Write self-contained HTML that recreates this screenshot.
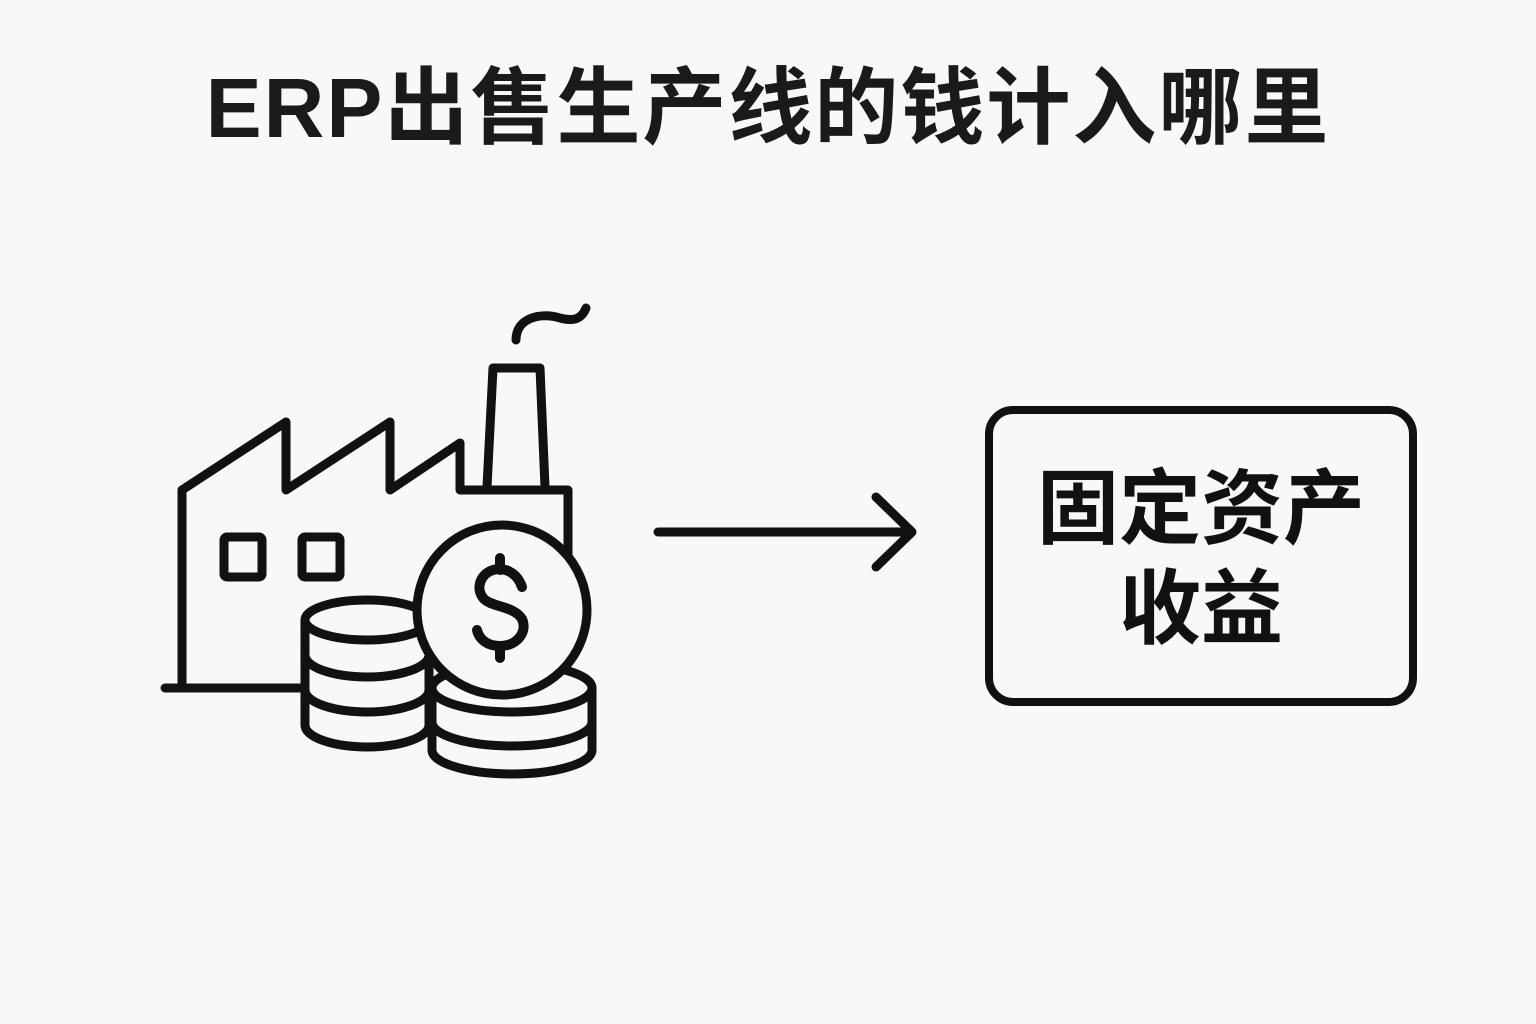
<!DOCTYPE html>
<html><head><meta charset="utf-8"><style>
body{margin:0;width:1536px;height:1024px;background:#f8f8f6;overflow:hidden;position:relative;font-family:"Liberation Sans","Noto Sans CJK SC",sans-serif;}
.t{position:absolute;left:0;width:1536px;top:58px;text-align:center;font-size:84px;font-weight:bold;color:#1a1a1a;line-height:100px;letter-spacing:2px}
.b{position:absolute;left:985px;top:406px;width:416px;height:284px;border:8px solid #111;border-radius:28px;box-sizing:content-box}
.bt{position:absolute;left:985px;width:432px;text-align:center;font-size:82px;font-weight:bold;color:#111;line-height:100px}
</style></head><body>
<div class="t">ERP出售生产线的钱计入哪里</div>
<svg width="1536" height="1024" style="position:absolute;left:0;top:0" fill="none" stroke="#111" stroke-width="9" stroke-linejoin="round" stroke-linecap="round">
<path d="M165 688 H310 M182 688 V490 L286 422 V490 L390 422 V490 L460 443 V490 H568 V560"/>
<path d="M487 487 L493 368 H540 L545 487"/>
<path d="M516 340 C516 318 540 312 560 318 C575 322 582 318 586 308"/>
<rect x="224" y="537" width="38" height="40" rx="3"/>
<rect x="302" y="537" width="38" height="40" rx="3"/>
<g fill="#f8f8f6">
<path d="M305 620 V725 A62 22 0 0 0 429 725 V620 Z"/>
<ellipse cx="367" cy="620" rx="62" ry="20"/>
<path d="M305 655 A62 22 0 0 0 429 655 M305 690 A62 22 0 0 0 429 690" fill="none"/>
<path d="M432 688 V750 A80 24 0 0 0 592 750 V688 Z"/>
<ellipse cx="512" cy="688" rx="80" ry="24"/>
<path d="M432 722 A80 24 0 0 0 592 722" fill="none"/>
<circle cx="502" cy="610" r="85"/>
</g>
<path d="M522 587 C517 572 504 567 493 570 C480 574 475 589 484 599 C492 607 514 606 522 619 C528 633 516 646 500 646 C487 646 479 639 477 630 M500 558 V570 M500 646 V658" stroke-width="10"/>
<path d="M658 532 H912 M876 497 L912 532 L876 567"/>
</svg>
<div class="b"></div>
<div class="bt" style="top:460px">固定资产</div>
<div class="bt" style="top:560px">收益</div>
</body></html>
